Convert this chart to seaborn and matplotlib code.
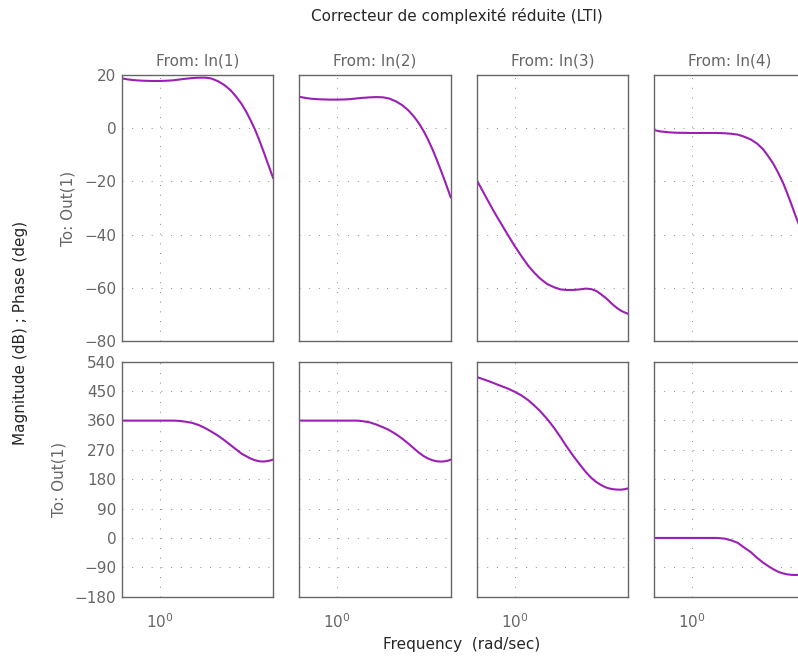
import matplotlib
matplotlib.use("Agg")
import matplotlib.pyplot as plt
import seaborn as sns

# frequencies (rad/sec) shared by every channel
freq = [0.6, 0.65, 0.7, 0.75, 0.8, 0.9, 1.0, 1.1, 1.2, 1.3, 1.4, 1.55, 1.7, 1.85,
        2.0, 2.2, 2.4, 2.6, 2.8, 3.0, 3.2, 3.4, 3.6, 3.8, 4.0, 4.2, 4.4, 4.6]

# magnitude (dB), one list per input
mag_in1 = [18.75, 18.35, 18.1, 17.95, 17.85, 17.75, 17.75, 17.85, 18.0, 18.3, 18.55, 18.85, 19.0, 19.0,
           18.7, 17.6, 16.1, 14.2, 11.8, 9.2, 6.2, 2.9, -0.5, -4.2, -8.0, -11.8, -15.4, -18.8]
mag_in2 = [11.8, 11.4, 11.1, 10.95, 10.85, 10.75, 10.75, 10.8, 10.95, 11.2, 11.4, 11.6, 11.7, 11.6,
           11.2, 10.1, 8.6, 6.7, 4.4, 1.8, -1.2, -4.5, -8.0, -11.7, -15.4, -19.0, -22.6, -26.1]
mag_in3 = [-19.5, -23.6, -27.4, -30.9, -34.0, -39.5, -44.3, -48.3, -51.7, -54.3, -56.4, -58.6, -59.8, -60.6,
           -60.8, -60.8, -60.6, -60.3, -60.5, -61.2, -62.5, -63.8, -65.3, -66.7, -67.8, -68.7, -69.3, -69.8]
mag_in4 = [-0.7, -1.2, -1.4, -1.6, -1.7, -1.75, -1.8, -1.8, -1.8, -1.8, -1.8, -1.9, -2.1, -2.4,
           -3.1, -4.2, -5.8, -7.9, -10.7, -13.6, -17.0, -20.5, -24.5, -28.5, -32.5, -36.0, -39.6, -43.3]

# phase (deg), one list per input
phase_in1 = [359.5, 359.5, 359.5, 359.5, 359.5, 359.5, 359.5, 359.5, 359.5, 358.7, 356.6, 352.5, 345.4, 336.2,
             326.0, 312.7, 298.4, 284.1, 270.8, 258.6, 250.4, 243.2, 238.1, 235.1, 234.1, 235.1, 237.1, 240.2]
phase_in2 = [359.5, 359.5, 359.5, 359.5, 359.5, 359.5, 359.5, 359.5, 359.5, 359.5, 358.0, 354.0, 347.0, 339.0,
             331.0, 318.0, 304.0, 289.0, 274.5, 261.0, 250.5, 243.0, 238.0, 235.0, 234.0, 234.5, 236.5, 240.0]
phase_in3 = [493, 487, 481, 475, 469, 459, 448, 436, 422, 406, 390, 364, 337, 309,
             282, 251, 225, 202, 184, 171, 162, 155, 151, 149, 148, 148, 149.5, 152]
phase_in4 = [0, 0, 0, 0, 0, 0, 0, 0, 0, 0, 0, -2, -7.5, -15,
             -28, -43, -61, -75.5, -87, -96.5, -104, -108.5, -111.5, -113, -113.5, -113, -112.5, -112]

inputs = ["From: In(1)", "From: In(2)", "From: In(3)", "From: In(4)"]
mag_ticks = [-80, -60, -40, -20, 0, 20]
phase_ticks = [-180, -90, 0, 90, 180, 270, 360, 450, 540]

sns.set_style("white")
plt.rcParams['font.family'] = ['DejaVu Sans']

W, H = 798, 657
fig = plt.figure(figsize=(W / 100, H / 100), dpi=100)

line_color = '#9c1fb5'
grey = '#666666'
fs = 11
col_left = [121.7, 299.3, 476.7, 654.0]
col_w = 151.5
rows = [(75, 341), (361.7, 596.7)]

mags = [mag_in1, mag_in2, mag_in3, mag_in4]
phases = [phase_in1, phase_in2, phase_in3, phase_in4]

for r, (top, bot) in enumerate(rows):
    for c in range(4):
        ax = fig.add_axes([col_left[c] / W, 1 - bot / H, col_w / W, (bot - top) / H])
        yvals = mags[c] if r == 0 else phases[c]
        sns.lineplot(x=freq, y=yvals, ax=ax, color=line_color, linewidth=1.5)
        ax.set_xscale('log')
        ax.set_xlim(0.6, 4.6)
        if r == 0:
            ax.set_ylim(-80, 20)
            ax.set_yticks(mag_ticks)
        else:
            ax.set_ylim(-180, 540)
            ax.set_yticks(phase_ticks)
        ax.set_xticks([1.0])
        ax.xaxis.set_minor_locator(matplotlib.ticker.NullLocator())
        ax.set_xticklabels([r'$10^0$'] if r == 1 else [])
        if c != 0:
            ax.set_yticklabels([])
        else:
            ax.set_yticklabels([str(t).replace('-', '\u2212') for t in ax.get_yticks().astype(int)])
        ax.grid(True, color='#8a8a8a', linestyle=(0, (1, 9)), linewidth=0.7)
        ax.tick_params(axis='y', direction='in', length=0, labelsize=fs, colors=grey, pad=4)
        ax.tick_params(axis='x', direction='in', length=0, labelsize=fs, colors=grey, pad=11)
        for s in ax.spines.values():
            s.set_color(grey)
            s.set_linewidth(1.0)
        ax.set_xlabel('')
        ax.set_ylabel('')
        if r == 0:
            ax.set_title(inputs[c], fontsize=fs, color=grey, pad=7)
        if c == 0:
            ax.set_ylabel('To: Out(1)', fontsize=fs, color=grey, labelpad=6)

fig.text(457 / W, 1 - 16 / H, 'Correcteur de complexité réduite (LTI)', ha='center', va='center', fontsize=fs)
fig.text(21 / W, 1 - 333 / H, 'Magnitude (dB) ; Phase (deg)', ha='center', va='center', rotation=90, fontsize=fs)
fig.text(462 / W, 1 - 645 / H, 'Frequency  (rad/sec)', ha='center', va='center', fontsize=fs)

fig.savefig('out.png', dpi=100)
